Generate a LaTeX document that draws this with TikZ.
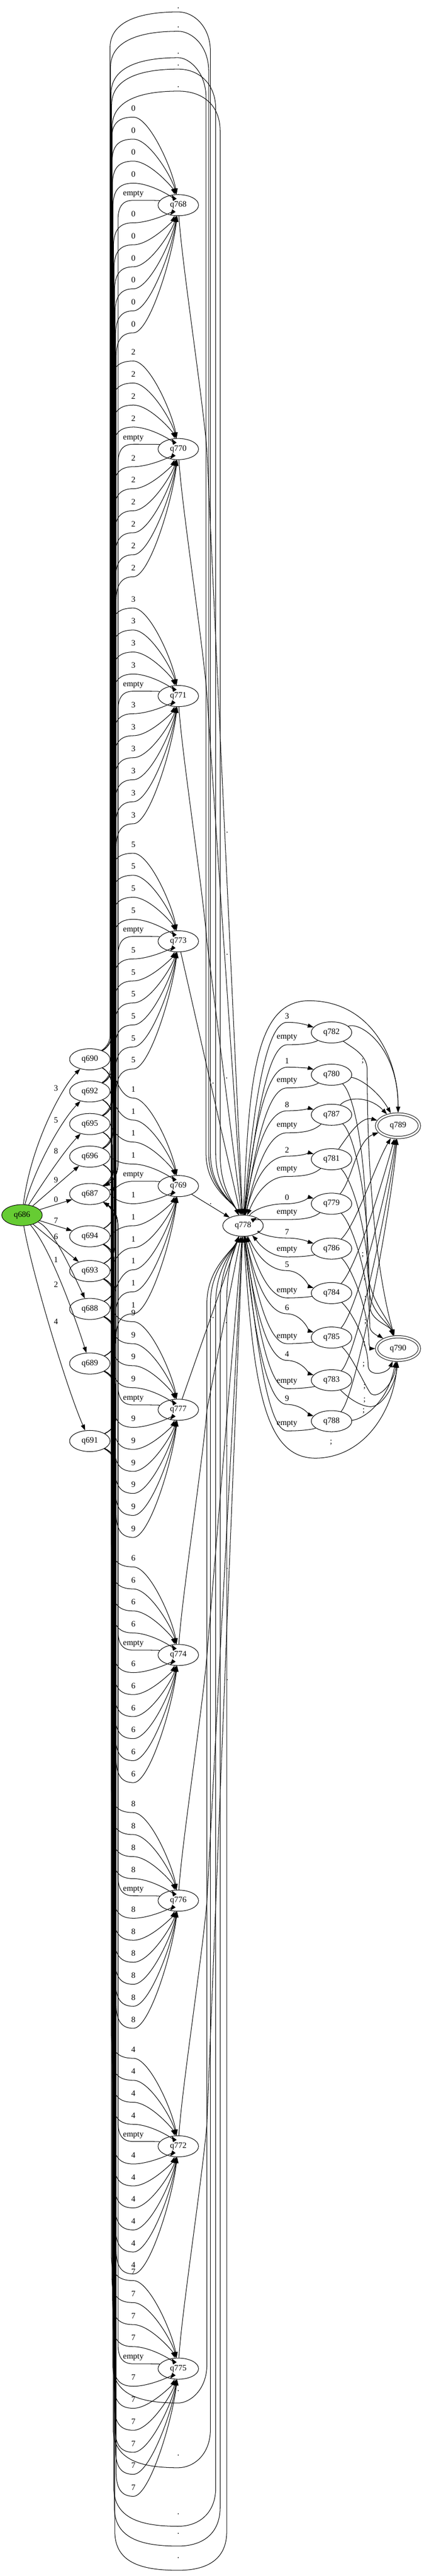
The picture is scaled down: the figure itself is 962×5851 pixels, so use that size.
\documentclass[tikz,border=0pt]{standalone}
\usepackage{fontspec}
\setmainfont{Liberation Serif}
\usetikzlibrary{arrows.meta,shapes.geometric}
\definecolor{startgreen}{RGB}{102,204,51}
\begin{document}
\begin{tikzpicture}[x=0.75pt,y=-0.75pt,
  every node/.append style={font=\fontsize{14}{16}\selectfont},
  state/.style={ellipse,draw,line width=0.9pt,minimum width=69pt,minimum height=36pt,inner sep=0pt},
  acc/.style={ellipse,draw,line width=0.9pt,minimum width=73pt,minimum height=40pt,inner sep=0pt,double,double distance=3.1pt,outer sep=2.45pt},
  tr/.style={-{Triangle[length=10pt,width=7pt]},line width=0.9pt},
  lbl/.style={inner sep=0pt}]
\useasboundingbox (0,0) rectangle (962,5851);

% ---------- nodes ----------
\node[state,fill=startgreen] (q686) at (50,2760) {q686};
\foreach \L/\Ly in {q690/2406,q692/2479,q695/2553,q696/2627,q687/2712,q694/2808,q693/2887,q688/2973,q689/3097,q691/3273}
  \node[state] (\L) at (204,\Ly) {\L};
\foreach \C/\Cy in {q768/466,q770/1020,q771/1581,q773/2138,q769/2694,q777/3202,q774/3759,q776/4317,q772/4875,q775/5380}
  \node[state] (\C) at (405,\Cy) {\C};
\node[state] (q778) at (552,2784) {q778};
\foreach \R/\ry in {q782/2345,q780/2441,q787/2532,q781/2633,q779/2734,q786/2836,q784/2937,q785/3038,q783/3135,q788/3228}
  \node[state] (\R) at (753,\ry) {\R};
\node[acc] (q789) at (904,2557) {q789};
\node[acc] (q790) at (904,3063) {q790};

% ---------- start edges ----------
\draw[tr] (q686) .. controls (70,2600) and (140,2470) .. (q690);
\node[lbl] (s3) at (127,2472) {3};
\draw[tr] (q686) .. controls (80,2650) and (140,2545) .. (q692);
\node[lbl] (s5) at (127,2544) {5};
\draw[tr] (q686) .. controls (95,2690) and (145,2615) .. (q695);
\node[lbl] (s8) at (127,2615) {8};
\draw[tr] (q686) -- (q696);
\node[lbl] (s9) at (127,2680) {9};
\draw[tr] (q686) -- (q687);
\node[lbl] (s0) at (127,2725) {0};
\draw[tr] (q686) -- (q694);
\node[lbl] (s7) at (127,2772) {7};
\draw[tr] (q686) -- (q693);
\node[lbl] (s6) at (127,2809) {6};
\draw[tr] (q686) .. controls (120,2790) and (160,2880) .. (q688);
\node[lbl] (s1) at (127,2861) {1};
\draw[tr] (q686) .. controls (110,2830) and (160,2960) .. (q689);
\node[lbl] (s2) at (127,2918) {2};
\draw[tr] (q686) .. controls (70,2880) and (150,3150) .. (q691);
\node[lbl] (s4) at (127,3002) {4};

% ---------- digit edges from left column to middle column ----------
\foreach \C/\Cy/\dig [count=\ci from 0] in {q768/466/0,q770/1020/2,q771/1581/3,q773/2138/5,q769/2694/1,q777/3202/9,q774/3759/6,q776/4317/8,q772/4875/4,q775/5380/7}{
  \foreach \L/\Ly [count=\li from 0] in {q690/2406,q692/2479,q695/2553,q696/2627,q687/2712,q694/2808,q693/2887,q688/2973,q689/3097,q691/3273}{
    \pgfmathsetmacro{\mys}{\Cy-220+{0,50,100,150,240,290,340,390,440,490}[\li]}
    \pgfmathsetmacro{\myt}{\mys+20}
    \pgfmathsetmacro{\mydy}{\myt-\Ly}
    \pgfmathsetmacro{\mysg}{\mydy>0 ? 1 : -1}
    \pgfmathtruncatemacro{\myfar}{abs(\mydy)>120 ? 1 : 0}
    \pgfmathsetmacro{\mybx}{253+1.2*\li}
    \pgfmathsetmacro{\mycy}{\Cy+0.4*(\myt-\Cy)}
    \node[lbl] (lab-\ci-\li) at (303,\mys) {\dig};
    \ifnum\myfar=1
      \draw[tr] (\L) .. controls ({\mybx-20},{\Ly+20*(\mysg)}) and (\mybx,{\Ly+30*(\mysg)}) .. (\mybx,{\Ly+55*(\mysg)})
        -- (\mybx,{\myt-55*(\mysg)}) .. controls (\mybx,{\myt-18*(\mysg)}) and ({\mybx+12},\myt) .. (303,\myt)
        .. controls (340,\myt) and (392,\mycy) .. (\C);
    \else
      \draw[tr] (\L) .. controls (250,\Ly) and (265,\myt) .. (303,\myt) .. controls (340,\myt) and (392,\mycy) .. (\C);
    \fi
  }
}

% ---------- empty edges back to q687 ----------
\foreach \C/\Cy [count=\ci from 0] in {q768/466,q770/1020,q771/1581,q773/2138,q769/2694,q777/3202,q774/3759,q776/4317,q772/4875,q775/5380}{
  \pgfmathsetmacro{\mye}{\Cy-25}
  \pgfmathsetmacro{\myec}{\Cy-11}
  \node[lbl] (emp-\ci) at (303,\mye) {empty};
  \ifnum\ci<4
    \draw[tr] (\C) .. controls (360,\myec) and (330,\myec) .. (303,\myec) .. controls (280,\myec) and (268,{\myec+12}) .. (268,{\myec+45})
      -- (268,2640) .. controls (268,2668) and (258,2682) .. (q687);
  \else\ifnum\ci=4
    \draw[tr] (\C) .. controls (360,\myec) and (330,\myec) .. (303,\myec) .. controls (275,\myec) and (262,2700) .. (q687);
  \else
    \draw[tr] (\C) .. controls (360,\myec) and (330,\myec) .. (303,\myec) .. controls (280,\myec) and (268,{\myec-12}) .. (268,{\myec-45})
      -- (268,2790) .. controls (268,2758) and (258,2745) .. (q687);
  \fi\fi
}

% ---------- "." loops from left column to q778 ----------
\foreach \L/\Ly/\li/\myty/\myrx [count=\k] in {q690/2406/0/18/478,q692/2479/1/62/474,q695/2553/2/122/468,q696/2627/3/148/490,q687/2712/4/198/500}{
  \pgfmathsetmacro{\mybx}{250+1.2*\li}
  \node[lbl] (dtop-\k) at (405,\myty) {.};
  \draw[tr] (\L) .. controls ({\mybx-20},{\Ly-20}) and (\mybx,{\Ly-30}) .. (\mybx,{\Ly-55}) -- (\mybx,{\myty+90})
    .. controls (\mybx,{\myty+25}) and (330,{\myty+9}) .. (405,{\myty+9})
    .. controls ({\myrx-40},{\myty+9}) and (\myrx,{\myty+40}) .. (\myrx,{\myty+100}) -- (\myrx,2620)
    .. controls (\myrx,2700) and (530,2730) .. (q778);
}
\foreach \L/\Ly/\li/\myb/\myrx [count=\k] in {q694/2808/5/5430/470,q693/2887/6/5577/478,q688/2973/7/5710/490,q689/3097/8/5755/500,q691/3273/9/5810/515}{
  \pgfmathsetmacro{\mybx}{250+1.2*\li}
  \node[lbl] (dbot-\k) at (405,\myb) {.};
  \draw[tr] (\L) .. controls ({\mybx-20},{\Ly+20}) and (\mybx,{\Ly+30}) .. (\mybx,{\Ly+55}) -- (\mybx,{\myb-60})
    .. controls (\mybx,{\myb+15}) and (330,{\myb+28}) .. (405,{\myb+28})
    .. controls ({\myrx-40},{\myb+28}) and (\myrx,\myb) .. (\myrx,{\myb-60}) -- (\myrx,2960)
    .. controls (\myrx,2880) and (530,2840) .. (q778);
}

% ---------- "." edges from middle column to q778 ----------
\draw[tr] (q768) .. controls (412,590) and (460,900) .. (470,1023) -- node[pos=0.5,anchor=west,inner sep=2pt] (m0) {.} (q778);
\draw[tr] (q770) .. controls (412,1144) and (460,1454) .. (470,1577) -- node[pos=0.5,anchor=west,inner sep=2pt] (m1) {.} (q778);
\draw[tr] (q771) .. controls (412,1705) and (460,2015) .. (470,2138) -- node[pos=0.5,anchor=west,inner sep=2pt] (m2) {.} (q778);
\draw[tr] (q773) -- node[pos=0.5,anchor=west,inner sep=2pt] (m3) {.} (q778);
\draw[tr] (q769) -- node[pos=0.5,above,inner sep=2pt] (m4) {.} (q778);
\draw[tr] (q777) -- node[pos=0.5,anchor=west,inner sep=2pt] (m5) {.} (q778);
\draw[tr] (q774) .. controls (412,3635) and (460,3325) .. (470,3202) -- node[pos=0.5,anchor=west,inner sep=2pt] (m6) {.} (q778);
\draw[tr] (q776) .. controls (412,4193) and (460,3883) .. (470,3760) -- node[pos=0.5,anchor=west,inner sep=2pt] (m7) {.} (q778);
\draw[tr] (q772) .. controls (412,4751) and (460,4441) .. (470,4318) -- node[pos=0.5,anchor=west,inner sep=2pt] (m8) {.} (q778);
\draw[tr] (q775) .. controls (412,5256) and (460,4946) .. (470,4823) -- node[pos=0.5,anchor=west,inner sep=2pt] (m9) {.} (q778);

% ---------- q778 <-> right column ----------
\foreach \R/\ry/\dg/\myly/\myey in {q782/2345/3/2308/2357,q780/2441/1/2410/2455,q787/2532/8/2509/2557,q781/2633/2/2612/2656,q779/2734/0/2720/2754,q786/2836/7/2798/2839,q784/2937/5/2872/2932,q785/3038/6/2970/3036,q783/3135/4/3076/3138,q788/3228/9/3176/3234}{
  \node[lbl] (dl-\R) at (652,\myly) {\dg};
  \node[lbl] (el-\R) at (652,\myey) {empty};
  \draw[tr] (q778) .. controls (572,{(2784+\myly)/2}) and (600,{\myly+14}) .. (652,{\myly+14})
    .. controls (685,{\myly+14}) and (705,{\ry-14}) .. (\R);
  \draw[tr] (\R) .. controls (712,{\myey+12}) and (690,{\myey+16}) .. (652,{\myey+16})
    .. controls (605,{\myey+16}) and (578,{(\myey+2784)/2}) .. (q778);
}

% ---------- right column to q789 ----------
\draw[tr] (q782) .. controls (820,2320) and (905,2380) .. (q789);
\draw[tr] (q780) .. controls (820,2450) and (860,2480) .. (q789);
\draw[tr] (q787) .. controls (790,2490) and (840,2490) .. (q789);
\draw[tr] (q781) .. controls (790,2580) and (820,2535) .. (q789);
\draw[tr] (q779) .. controls (800,2680) and (810,2590) .. (q789);
\draw[tr] (q786) .. controls (810,2780) and (850,2650) .. (q789);
\draw[tr] (q784) .. controls (810,2880) and (870,2680) .. (q789);
\draw[tr] (q785) .. controls (810,2980) and (880,2700) .. (q789);
\draw[tr] (q783) .. controls (810,3080) and (885,2720) .. (q789);
\draw[tr] (q788) .. controls (810,3170) and (890,2740) .. (q789);
\draw[tr] (q778) .. controls (565,2450) and (580,2275) .. (700,2273) .. controls (840,2272) and (905,2400) .. (q789);

% ---------- right column to q790 ----------
\draw[tr] (q782) .. controls (800,2380) and (834,2395) .. (834,2430) .. controls (834,2800) and (880,2980) .. (q790);
\node[lbl] (c1) at (824,2410) {;};
\draw[tr] (q780) .. controls (800,2480) and (834,2600) .. (834,2870) .. controls (834,2950) and (880,2990) .. (q790);
\node[lbl] (c2) at (824,2850) {;};
\draw[tr] (q787) .. controls (800,2570) and (838,2700) .. (838,2920) .. controls (838,2980) and (880,3000) .. (q790);
\node[lbl] (c3) at (828,2903) {;};
\draw[tr] (q781) .. controls (800,2680) and (840,2800) .. (840,2965) .. controls (840,3000) and (885,3010) .. (q790);
\node[lbl] (c4) at (830,2950) {;};
\draw[tr] (q779) .. controls (800,2780) and (840,2900) .. (840,3015) .. controls (842,3030) and (870,3040) .. (q790);
\node[lbl] (c5) at (830,3003) {;};
\draw[tr] (q786) .. controls (800,2880) and (838,2980) .. (838,3050) .. controls (838,3060) and (845,3063) .. (q790);
\node[lbl] (c6) at (828,3053) {;};
\draw[tr] (q784) .. controls (800,2980) and (836,3050) .. (836,3100) .. controls (836,3130) and (880,3120) .. (q790);
\node[lbl] (c7) at (826,3100) {;};
\draw[tr] (q785) .. controls (800,3080) and (830,3150) .. (842,3165) .. controls (860,3180) and (895,3140) .. (q790);
\node[lbl] (c8) at (828,3150) {;};
\draw[tr] (q783) .. controls (790,3175) and (820,3195) .. (842,3195) .. controls (870,3195) and (900,3140) .. (q790);
\node[lbl] (c9) at (828,3180) {;};
\draw[tr] (q788) .. controls (820,3225) and (880,3190) .. (q790);
\node[lbl] (c10) at (826,3205) {;};
\draw[tr] (q778) .. controls (575,3150) and (600,3310) .. (715,3312) .. controls (830,3312) and (895,3200) .. (q790);
\node[lbl] (c11) at (752,3277) {;};
\end{tikzpicture}
\end{document}
